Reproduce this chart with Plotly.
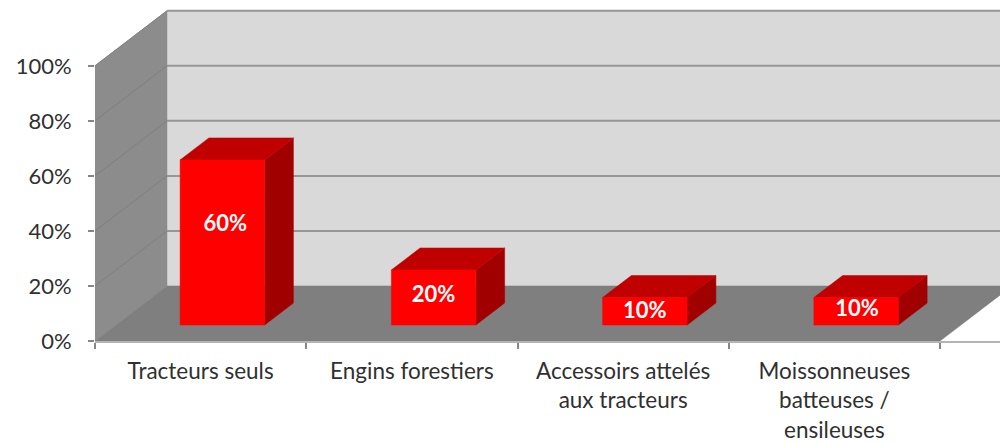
import plotly.graph_objects as go

# Chart data
categories = [
    "Tracteurs seuls",
    "Engins forestiers",
    "Accessoirs attelés<br>aux tracteurs",
    "Moissonneuses<br>batteuses /<br>ensileuses",
]
shares = [60, 20, 10, 10]
value_ticks = [0, 20, 40, 60, 80, 100]
value_tick_labels = ["0%", "20%", "40%", "60%", "80%", "100%"]

# Placement of each value label, set by hand on the chart:
# height in axis percent, sideways nudge in category units
label_levels = [42.0, 16.0, 10.3, 11.0]
label_nudges = [0.014, 0.0, 0.0, 0.005]

# Oblique projection: one unit of depth shifts a point right and up
DEPTH_X = 72 / 211.25
DEPTH_Y = 20.0
BAR_HALF = 0.2
BAR_SHIFT = 0.004
BAR_NEAR, BAR_FAR = 0.29, 0.69
X_MIN, X_MAX = -0.5, -0.5 + 905 / 211.25
X_END = 3.5
Y_MAX = 341 / 2.752

TEXT = "#303030"
FONT = "Lato"


def project(x, depth, value):
    return x + depth * DEPTH_X, value + depth * DEPTH_Y


def polygon(points, color, edge=None, edge_width=0.5):
    xs, ys = zip(*[project(*p) for p in points])
    return go.Scatter(
        x=list(xs) + [xs[0]], y=list(ys) + [ys[0]],
        mode="lines", fill="toself", fillcolor=color,
        line=dict(color=edge or color, width=edge_width),
        hoverinfo="skip", showlegend=False,
    )


def polyline(points, color, width):
    xs, ys = zip(*[project(*p) for p in points])
    return go.Scatter(
        x=xs, y=ys, mode="lines", line=dict(color=color, width=width),
        hoverinfo="skip", showlegend=False,
    )


fig = go.Figure()

# Walls and floor of the box
fig.add_trace(polygon([(X_MIN, 1, 0), (X_MAX + 1, 1, 0), (X_MAX + 1, 1, 100), (X_MIN, 1, 100)], "#d9d9d9"))
fig.add_trace(polygon([(X_MIN, 0, 0), (X_MIN, 1, 0), (X_MIN, 1, 100), (X_MIN, 0, 100)], "#8c8c8c"))
fig.add_trace(polygon([(X_MIN, 0, 0), (X_END, 0, 0), (X_END, 1, 0), (X_MIN, 1, 0)], "#7f7f7f"))

# Gridlines across the side wall and the back wall
for v in value_ticks:
    if v > 0:
        fig.add_trace(polyline([(X_MIN, 0, v), (X_MIN, 1, v)], "#7f7f7f", 1))
        fig.add_trace(polyline([(X_MIN, 1, v), (X_MAX + 1, 1, v)], "#969696", 2))

# Bars: side and top faces first, the front face over them
for i, v in enumerate(shares):
    left, right = i + BAR_SHIFT - BAR_HALF, i + BAR_SHIFT + BAR_HALF
    fig.add_trace(polygon([(right, BAR_NEAR, 0), (right, BAR_FAR, 0), (right, BAR_FAR, v), (right, BAR_NEAR, v)], "#a00000"))
    fig.add_trace(polygon([(left, BAR_NEAR, v), (right, BAR_NEAR, v), (right, BAR_FAR, v), (left, BAR_FAR, v)], "#c00000"))
    fig.add_trace(polygon([(left, BAR_NEAR, 0), (right, BAR_NEAR, 0), (right, BAR_NEAR, v), (left, BAR_NEAR, v)], "#ff0000"))

# Value labels on the front faces
fig.add_trace(go.Scatter(
    x=[i + 0.3 * DEPTH_X + nudge for i, nudge in enumerate(label_nudges)],
    y=label_levels,
    mode="text",
    text=[f"{v}%" for v in shares],
    textposition="middle center",
    textfont=dict(family=FONT, size=22, color="#ffffff", weight="bold"),
    hoverinfo="skip", showlegend=False,
))

fig.update_layout(
    width=1000, height=443,
    margin=dict(l=95, r=0, t=0, b=102),
    paper_bgcolor="#ffffff", plot_bgcolor="#ffffff",
    showlegend=False,
    xaxis=dict(
        range=[X_MIN, X_MAX],
        automargin=False,
        tickmode="array",
        tickvals=list(range(len(categories))),
        ticktext=categories,
        ticks="",
        ticklabelstandoff=9,
        showgrid=False, zeroline=False,
        showline=True, linecolor="#b4b4b4", linewidth=2,
        tickfont=dict(family=FONT, size=22.5, color=TEXT),
        tickangle=0,
        minor=dict(
            tickmode="array",
            tickvals=[i - 0.5 for i in range(len(categories) + 1)],
            ticks="outside", ticklen=6, tickwidth=2, tickcolor="#868686",
            showgrid=False,
        ),
    ),
    yaxis=dict(
        range=[0, Y_MAX],
        automargin=False,
        tickmode="array",
        tickvals=value_ticks,
        ticktext=value_tick_labels,
        ticks="outside", ticklen=6, tickwidth=2, tickcolor="#868686",
        ticklabelstandoff=12,
        showgrid=False, zeroline=False, showline=False,
        tickfont=dict(family=FONT, size=22, color=TEXT),
    ),
)

fig.write_html("out.html")
